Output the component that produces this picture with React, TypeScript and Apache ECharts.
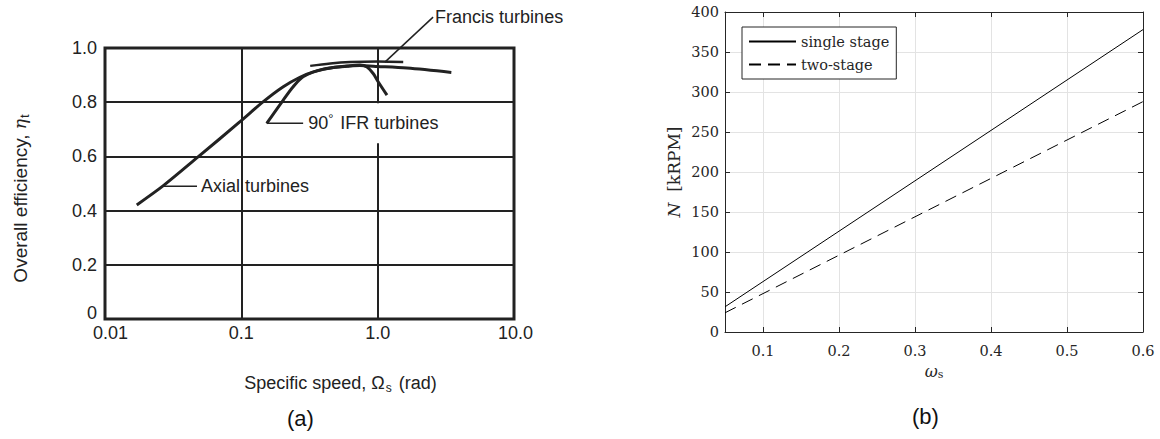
import React, { useEffect, useRef } from "react";
import * as echarts from "echarts";

// ---------- Panel (a) data ----------
const aXTickLabels = ["0.01", "0.1", "1.0", "10.0"];
const axialCurve: [number, number][] = [
  [0.0171, 0.421], [0.0268, 0.492], [0.0484, 0.599], [0.0978, 0.728], [0.145, 0.802],
  [0.203, 0.857], [0.269, 0.892], [0.337, 0.912], [0.47, 0.928], [0.74, 0.935],
  [1.0, 0.932], [1.64, 0.926], [3.47, 0.91],
];
const ifrCurve: [number, number][] = [
  [0.1535, 0.722], [0.203, 0.808], [0.24, 0.857], [0.284, 0.894], [0.4, 0.922],
  [0.6, 0.933], [0.74, 0.937], [0.835, 0.93], [0.93, 0.905], [1.0, 0.878], [1.17, 0.826],
];
const francisCurve: [number, number][] = [
  [0.32, 0.934], [0.45, 0.943], [0.63, 0.948], [1.0, 0.95], [1.54, 0.948],
];
const axialLeader: [number, number][] = [[0.0268, 0.49], [0.0473, 0.49]];
const ifrLeader: [number, number][] = [[0.1535, 0.722], [0.284, 0.722]];
const francisLeader: [number, number][] = [[1.13, 0.948], [2.55, 1.114]];

// ---------- Panel (b) data ----------
const legendNames = ["single stage", "two-stage"];
const singleStage: [number, number][] = [[0.05, 31.5], [0.6, 378]];
const twoStage: [number, number][] = [[0.05, 24], [0.6, 288]];

const SANS = "Liberation Sans";
const SERIF = "DejaVu Serif";
const INK = "#222";
const AX = "#262626";

export default function App() {
  const ref = useRef<HTMLDivElement>(null);

  useEffect(() => {
    if (!ref.current) return;
    const chart = echarts.init(ref.current, undefined, { renderer: "svg" });

    const leaderSeries = (data: [number, number][], label: any) => ({
      type: "line",
      xAxisIndex: 0,
      yAxisIndex: 0,
      clip: false,
      symbol: "none",
      silent: true,
      lineStyle: { color: INK, width: 1.5 },
      endLabel: { show: true, ...label },
      data,
      z: 5,
    });

    const option: any = {
      animation: false,
      grid: [
        { left: 105, top: 48, right: 646, bottom: 120, show: true, borderColor: INK, borderWidth: 3, containLabel: false },
        { left: 725, top: 12, right: 17, bottom: 107, containLabel: false },
      ],
      xAxis: [
        {
          gridIndex: 0,
          type: "log",
          logBase: 10,
          min: 0.01,
          max: 10,
          name: "{t|Specific speed, Ω}{s|s}{t| (rad)}",
          nameLocation: "middle",
          nameGap: 53,
          nameTextStyle: {
            padding: [0, 0, 0, 62],
            rich: {
              t: { fontFamily: SANS, fontSize: 18, color: INK },
              s: { fontFamily: SANS, fontSize: 12, color: INK, padding: [10, 2, 0, 1] },
            },
          },
          axisLine: { show: false },
          axisTick: { show: false },
          axisLabel: {
            fontFamily: SANS,
            fontSize: 18,
            color: INK,
            margin: 5,
            formatter: (v: number) => {
              const i = Math.round(Math.log10(v)) + 2;
              const s = aXTickLabels[i] ?? "";
              if (i === 0) return "{f|" + s + "}";
              if (i === 3) return "{l|" + s + "}";
              return s;
            },
            rich: {
              f: { fontFamily: SANS, fontSize: 18, color: INK, padding: [0, 0, 0, 11] },
              l: { fontFamily: SANS, fontSize: 18, color: INK, padding: [0, 0, 0, 3] },
            },
          },
          splitLine: { show: true, lineStyle: { color: INK, width: 2 } },
          minorTick: { show: false },
          minorSplitLine: { show: false },
        },
        {
          gridIndex: 1,
          type: "value",
          min: 0.05,
          max: 0.6,
          name: "{w|ω}{s|s}",
          nameLocation: "middle",
          nameGap: 30,
          nameTextStyle: {
            rich: {
              w: { fontFamily: SERIF, fontSize: 16, fontStyle: "italic", color: AX },
              s: { fontFamily: SERIF, fontSize: 11, color: AX, padding: [7, 0, 0, 0] },
            },
          },
          axisLine: { show: true, onZero: false, lineStyle: { color: AX, width: 1 } },
          axisTick: { show: true, inside: true, length: 5, lineStyle: { color: AX } },
          axisLabel: { fontFamily: SERIF, fontSize: 14.5, color: AX, margin: 11, showMinLabel: false },
          splitLine: { show: true, lineStyle: { color: "#e3e3e3", width: 1 } },
        },
        {
          gridIndex: 1,
          type: "value",
          position: "top",
          min: 0.05,
          max: 0.6,
          axisLine: { show: true, onZero: false, lineStyle: { color: AX, width: 1 } },
          axisTick: { show: true, inside: true, length: 5, lineStyle: { color: AX } },
          axisLabel: { show: false },
          splitLine: { show: false },
        },
      ],
      yAxis: [
        {
          gridIndex: 0,
          type: "value",
          min: 0,
          max: 1,
          interval: 0.2,
          name: "{t|Overall efficiency, }{e|η}{s|t}",
          nameLocation: "middle",
          nameRotate: 90,
          nameGap: 74,
          nameTextStyle: {
            padding: [0, 30, 0, 0],
            rich: {
              t: { fontFamily: SANS, fontSize: 19, color: INK },
              e: { fontFamily: "DejaVu Serif", fontSize: 17, fontStyle: "italic", color: INK },
              s: { fontFamily: SANS, fontSize: 13, color: INK, padding: [9, 0, 0, 1] },
            },
          },
          axisLine: { show: false },
          axisTick: { show: false },
          axisLabel: {
            fontFamily: SANS,
            fontSize: 18,
            color: INK,
            margin: 8,
            formatter: (v: number) => (v === 0 ? "{z|0}" : v.toFixed(1)),
            rich: {
              z: { fontFamily: SANS, fontSize: 18, color: INK, padding: [0, 0, 13, 0] },
            },
          },
          splitLine: { show: true, lineStyle: { color: INK, width: 2 } },
        },
        {
          gridIndex: 1,
          type: "value",
          min: 0,
          max: 400,
          interval: 50,
          name: "{n|N}{t|  [kRPM]}",
          nameLocation: "middle",
          nameRotate: 90,
          nameGap: 43,
          nameTextStyle: {
            rich: {
              n: { fontFamily: SERIF, fontSize: 17, fontStyle: "italic", color: AX },
              t: { fontFamily: SERIF, fontSize: 17, color: AX },
            },
          },
          axisLine: { show: true, onZero: false, lineStyle: { color: AX, width: 1 } },
          axisTick: { show: true, inside: true, length: 5, lineStyle: { color: AX } },
          axisLabel: { fontFamily: SERIF, fontSize: 14.5, color: AX, margin: 6 },
          splitLine: { show: true, lineStyle: { color: "#e3e3e3", width: 1 } },
        },
        {
          gridIndex: 1,
          type: "value",
          position: "right",
          min: 0,
          max: 400,
          interval: 50,
          axisLine: { show: true, onZero: false, lineStyle: { color: AX, width: 1 } },
          axisTick: { show: true, inside: true, length: 5, lineStyle: { color: AX } },
          axisLabel: { show: false },
          splitLine: { show: false },
        },
      ],
      legend: {
        data: legendNames,
        orient: "vertical",
        left: 742,
        top: 27,
        itemWidth: 47,
        itemHeight: 14,
        itemGap: 8,
        padding: [7, 7, 7, 6],
        borderColor: AX,
        borderWidth: 1,
        borderRadius: 0,
        backgroundColor: "#fff",
        itemStyle: { opacity: 0, borderWidth: 0 },
        textStyle: { fontFamily: SERIF, fontSize: 14.5, color: AX },
        selectedMode: false,
      },
      series: [
        {
          name: "axial",
          type: "line",
          xAxisIndex: 0,
          yAxisIndex: 0,
          smooth: 0.3,
          symbol: "none",
          lineStyle: { color: INK, width: 3 },
          data: axialCurve,
          z: 4,
        },
        {
          name: "ifr",
          type: "line",
          xAxisIndex: 0,
          yAxisIndex: 0,
          smooth: 0.3,
          symbol: "none",
          lineStyle: { color: INK, width: 3 },
          data: ifrCurve,
          z: 4,
        },
        {
          name: "francis",
          type: "line",
          xAxisIndex: 0,
          yAxisIndex: 0,
          smooth: 0.35,
          symbol: "none",
          lineStyle: { color: INK, width: 2.5 },
          data: francisCurve,
          z: 4,
        },
        leaderSeries(axialLeader, {
          distance: 4,
          formatter: "Axial turbines",
          fontFamily: SANS,
          fontSize: 18,
          color: INK,
        }),
        leaderSeries(ifrLeader, {
          distance: 3,
          formatter: "{t|90}{d|°}{t| IFR turbines}",
          backgroundColor: "#fff",
          padding: [9, 2, 9, 2],
          rich: {
            t: { fontFamily: SANS, fontSize: 18, color: INK },
            d: { fontFamily: SANS, fontSize: 13, color: INK, padding: [0, 2, 9, 0] },
          },
        }),
        leaderSeries(francisLeader, {
          distance: 2,
          formatter: "Francis turbines",
          fontFamily: SANS,
          fontSize: 18,
          color: INK,
        }),
        {
          name: legendNames[0],
          type: "line",
          xAxisIndex: 1,
          yAxisIndex: 1,
          symbol: "none",
          color: "#000",
          lineStyle: { color: "#000", width: 1 },
          data: singleStage,
        },
        {
          name: legendNames[1],
          type: "line",
          xAxisIndex: 1,
          yAxisIndex: 1,
          symbol: "none",
          color: "#000",
          lineStyle: { color: "#000", width: 1, type: [12, 7] },
          data: twoStage,
        },
      ],
      graphic: [
        {
          type: "text",
          left: 287,
          top: 407,
          style: { text: "(a)", fontFamily: SANS, fontSize: 22, fill: "#111" },
        },
        {
          type: "text",
          left: 912,
          top: 405,
          style: { text: "(b)", fontFamily: SANS, fontSize: 22, fill: "#111" },
        },
      ],
    };

    chart.setOption(option);
    return () => chart.dispose();
  }, []);

  return (
    <div
      ref={ref}
      style={{ position: "fixed", left: 0, top: 0, width: 1160, height: 439, background: "#fff" }}
    />
  );
}
